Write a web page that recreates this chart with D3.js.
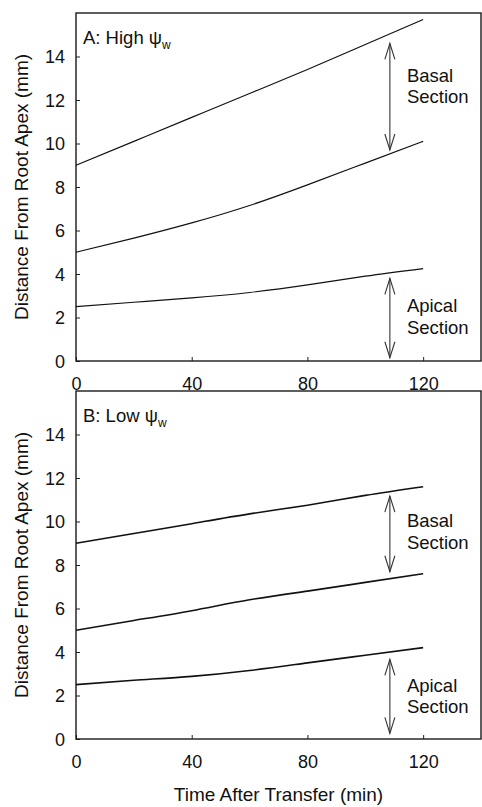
<!DOCTYPE html>
<html>
<head>
<meta charset="utf-8">
<script src="https://cdn.jsdelivr.net/npm/d3@7"></script>
<style>
  html, body { margin: 0; padding: 0; background: #fff; }
  svg { display: block; }
  text { font-family: "Liberation Sans", Arial, Helvetica, sans-serif; fill: #111; }
</style>
</head>
<body>
<svg id="chart" width="482" height="807"></svg>
<script>
// ---- Data ----
const times = [0, 20, 40, 60, 80, 100, 120];
const highUpper  = [9.0, 10.1, 11.2, 12.3, 13.4, 14.55, 15.7];
const highMiddle = [5.0, 5.65, 6.35, 7.15, 8.1, 9.1, 10.1];
const highLower  = [2.5, 2.7, 2.9, 3.15, 3.5, 3.9, 4.25];
const lowUpper   = [9.0, 9.45, 9.9, 10.35, 10.75, 11.2, 11.6];
const lowMiddle  = [5.0, 5.45, 5.9, 6.4, 6.8, 7.2, 7.6];
const lowLower   = [2.5, 2.7, 2.88, 3.15, 3.5, 3.85, 4.2];
const xTicks = [0, 40, 80, 120];
const yTicks = [0, 2, 4, 6, 8, 10, 12, 14];
const panelTitles = ["A: High ψ", "B: Low ψ"];
// arrows: time position, arrow ends, label first-line baseline (data units)
const highArrows = [
  { t: 108.5, y1: 14.6, y2: 9.7, label: "Basal", ly: 12.85 },
  { t: 108.5, y1: 3.8, y2: 0.15, label: "Apical", ly: 2.25 }
];
const lowArrows = [
  { t: 108.5, y1: 11.17, y2: 7.69, label: "Basal", ly: 9.74 },
  { t: 108.5, y1: 3.66, y2: 0.26, label: "Apical", ly: 2.17 }
];

const panels = [
  { title: panelTitles[0], series: [highUpper, highMiddle, highLower], arrows: highArrows, top: 13, lw: 1.2 },
  { title: panelTitles[1], series: [lowUpper, lowMiddle, lowLower], arrows: lowArrows, top: 391, lw: 1.6 }
];

const svg = d3.select("#chart");
const left = 76, width = 405, height = 348;

const x = d3.scaleLinear().domain([0, 140]).range([0, width]);
const y = d3.scaleLinear().domain([0, 16]).range([height, 0]);

panels.forEach((p, i) => {
  const g = svg.append("g").attr("transform", `translate(${left},${p.top})`);

  // axes
  const ya = g.append("g")
    .call(d3.axisLeft(y).tickValues(yTicks).tickSize(-4).tickPadding(11));
  ya.select(".domain").remove();
  ya.selectAll("text").attr("font-size", 18).attr("dy", "0.36em")
    .attr("font-family", "Liberation Sans, Arial, sans-serif").attr("fill", "#111");
  ya.selectAll("line").attr("stroke", "#222");

  const xa = g.append("g").attr("transform", `translate(0,${height})`)
    .call(d3.axisBottom(x).tickValues(xTicks).tickSize(-4).tickPadding(16));
  xa.select(".domain").remove();
  xa.selectAll("text").attr("font-size", 18)
    .attr("font-family", "Liberation Sans, Arial, sans-serif").attr("fill", "#111");
  xa.selectAll("line").attr("stroke", "#222");

  // frame
  g.append("rect").attr("x", 0).attr("y", 0).attr("width", width).attr("height", height)
    .attr("fill", "none").attr("stroke", "#1a1a1a").attr("stroke-width", 1.4);

  // lines
  const line = d3.line()
    .x((d, j) => x(times[j]))
    .y(d => y(d))
    .curve(d3.curveNatural);
  g.selectAll("path.series").data(p.series).enter().append("path")
    .attr("class", "series")
    .attr("d", d => line(d))
    .attr("fill", "none").attr("stroke", "#111").attr("stroke-width", p.lw);

  // arrows
  p.arrows.forEach(a => {
    const ax = x(a.t), yt = y(a.y1), yb = y(a.y2);
    g.append("line").attr("x1", ax).attr("x2", ax).attr("y1", yt).attr("y2", yb)
      .attr("stroke", "#333").attr("stroke-width", 1.1);
    g.append("polyline").attr("points", `${ax - 5},${yt + 16} ${ax},${yt} ${ax + 5},${yt + 16}`)
      .attr("fill", "none").attr("stroke", "#333").attr("stroke-width", 1.1);
    g.append("polyline").attr("points", `${ax - 5},${yb - 16} ${ax},${yb} ${ax + 5},${yb - 16}`)
      .attr("fill", "none").attr("stroke", "#333").attr("stroke-width", 1.1);
    const t = g.append("text").attr("x", ax + 17).attr("y", y(a.ly)).attr("font-size", 18.5);
    t.append("tspan").attr("x", ax + 17).text(a.label);
    t.append("tspan").attr("x", ax + 17).attr("dy", 21.5).text("Section");
  });

  // panel title
  const tt = g.append("text").attr("x", 7).attr("y", 31).attr("font-size", 18.5);
  tt.append("tspan").text(p.title);
  tt.append("tspan").attr("font-size", 12).attr("dy", 5).text("w");

  // y axis title
  svg.append("text")
    .attr("transform", `translate(28,${p.top + height / 2}) rotate(-90)`)
    .attr("text-anchor", "middle").attr("font-size", 19)
    .text("Distance From Root Apex (mm)");
});

// x axis title
svg.append("text").attr("x", left + width / 2).attr("y", 801)
  .attr("text-anchor", "middle").attr("font-size", 19)
  .text("Time After Transfer (min)");
</script>
</body>
</html>
